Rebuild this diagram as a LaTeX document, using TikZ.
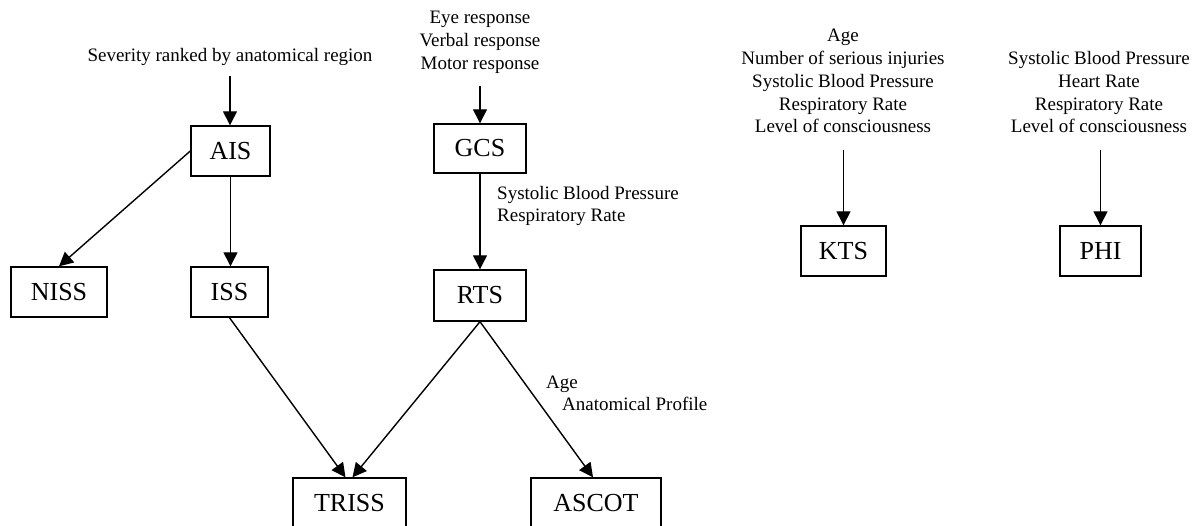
\documentclass[tikz,border=0pt]{standalone}
\usepackage{fontspec}
\setmainfont{Liberation Serif}
\usetikzlibrary{arrows.meta}
\begin{document}
\begin{tikzpicture}[x=1pt,y=-1pt,
  box/.style={draw, line width=1.4pt, minimum height=50pt, inner sep=0pt, font=\fontsize{26}{30}\selectfont},
  lbl/.style={inner sep=0pt, font=\fontsize{19}{22.8}\selectfont, align=center},
  arr/.style={line width=1.4pt, -{Triangle[width=14pt,length=14pt]}}]
\useasboundingbox (0,0) rectangle (1197,526);
\clip (0,0) rectangle (1197,526);
% boxes
\node[box, minimum width=79pt] (AIS) at (230.5,151) {AIS};
\node[box, minimum width=96pt] (NISS) at (59,292) {NISS};
\node[box, minimum width=77pt] (ISS) at (229.5,292) {ISS};
\node[box, minimum width=92pt, minimum height=49pt] (GCS) at (480,148.5) {GCS};
\node[box, minimum width=92pt, minimum height=51pt] (RTS) at (480,295.5) {RTS};
\node[box, minimum width=85pt] (KTS) at (843.5,251) {KTS};
\node[box, minimum width=81pt] (PHI) at (1100.5,251) {PHI};
\node[box, minimum width=113pt] (TRISS) at (349.5,503) {TRISS};
\node[box, minimum width=130pt] (ASCOT) at (596,503) {ASCOT};
% input texts (anchor=base is the baseline of the last line)
\node[lbl, anchor=base] (sev) at (230,62) {Severity ranked by anatomical region};
\node[lbl, anchor=base] (gcsin) at (480,69.5) {Eye response\\Verbal response\\Motor response};
\node[lbl, anchor=base] (ktsin) at (843,133) {Age\\Number of serious injuries\\Systolic Blood Pressure\\Respiratory Rate\\Level of consciousness};
\node[lbl, anchor=base] (phiin) at (1099,133) {Systolic Blood Pressure\\Heart Rate\\Respiratory Rate\\Level of consciousness};
% edge labels
\node[lbl, anchor=base west, align=left] (sbprr) at (497,222) {Systolic Blood Pressure\\Respiratory Rate};
\node[lbl, anchor=base west, align=left] (ageap) at (546,411) {Age\\\hspace*{16pt}Anatomical Profile};
% arrow start points
\coordinate (sevout) at (230,76);
\coordinate (gcsout) at (480,86);
\coordinate (ktsout) at (843.5,150);
\coordinate (phiout) at (1100.5,150);
% connectors
\draw[arr] (sevout) -- (sevout |- AIS.north);
\draw[arr] (AIS.west) -- (NISS.north);
\draw[arr] (AIS.south) -- (AIS.south |- ISS.north);
\draw[arr] (gcsout) -- (GCS.north);
\draw[arr] (GCS.south) -- (RTS.north);
\draw[arr] (ISS.south) -- ([xshift=-4pt]TRISS.north);
\draw[arr] (RTS.south) -- ([xshift=3pt]TRISS.north);
\draw[arr] (RTS.south) -- ([xshift=-3pt]ASCOT.north);
\draw[arr] (ktsout) -- (KTS.north);
\draw[arr] (phiout) -- (PHI.north);
\end{tikzpicture}
\end{document}
